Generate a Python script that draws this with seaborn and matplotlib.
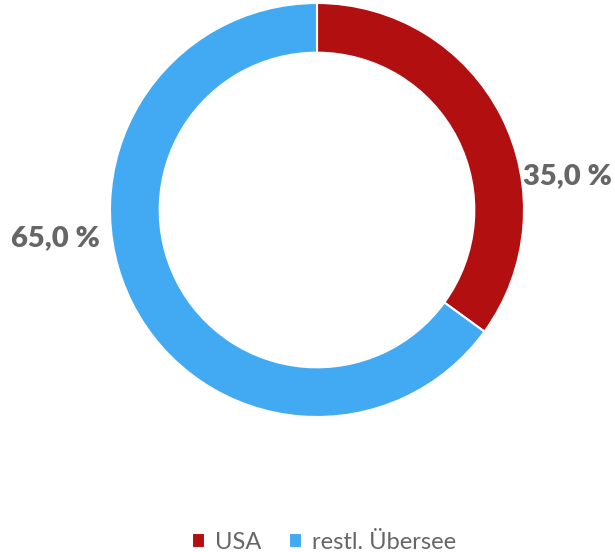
import seaborn as sns
import matplotlib.pyplot as plt

# data
regions = ["USA", "restl. Übersee"]
shares = [35.0, 65.0]
colors = ["#B20F11", "#42A9F3"]

sns.set_theme(style="white")
plt.rcParams['font.family'] = ['Lato', 'DejaVu Sans']

fig = plt.figure(figsize=(6.15, 5.52), dpi=100)
ax = fig.add_axes([110/615, 135/552, 414/615, 414/552])

wedges, _ = ax.pie(shares, colors=colors, startangle=90, counterclock=False,
                   radius=1.0, wedgeprops=dict(width=0.24, edgecolor="white", linewidth=1.5))
ax.set_xlim(-1, 1)
ax.set_ylim(-1, 1)
ax.set_aspect("equal")
ax.axis("off")

# value labels
label_pos = [(1.208, 0.165), (-1.266, -0.135)]
for val, (x, y) in zip(shares, label_pos):
    ax.text(x, y, f"{val:.1f} %".replace(".", ","), ha="center", va="center",
            fontsize=21, fontweight="heavy", color="#666666", clip_on=False)

leg = fig.legend(wedges, regions, loc="lower center", bbox_to_anchor=(0.527, -0.04),
                 ncol=2, frameon=False, fontsize=17, handlelength=0.55, handleheight=0.55,
                 handletextpad=0.4, columnspacing=1.2)
for t in leg.get_texts():
    t.set_color("#666666")

fig.savefig("out.png", dpi=100)
